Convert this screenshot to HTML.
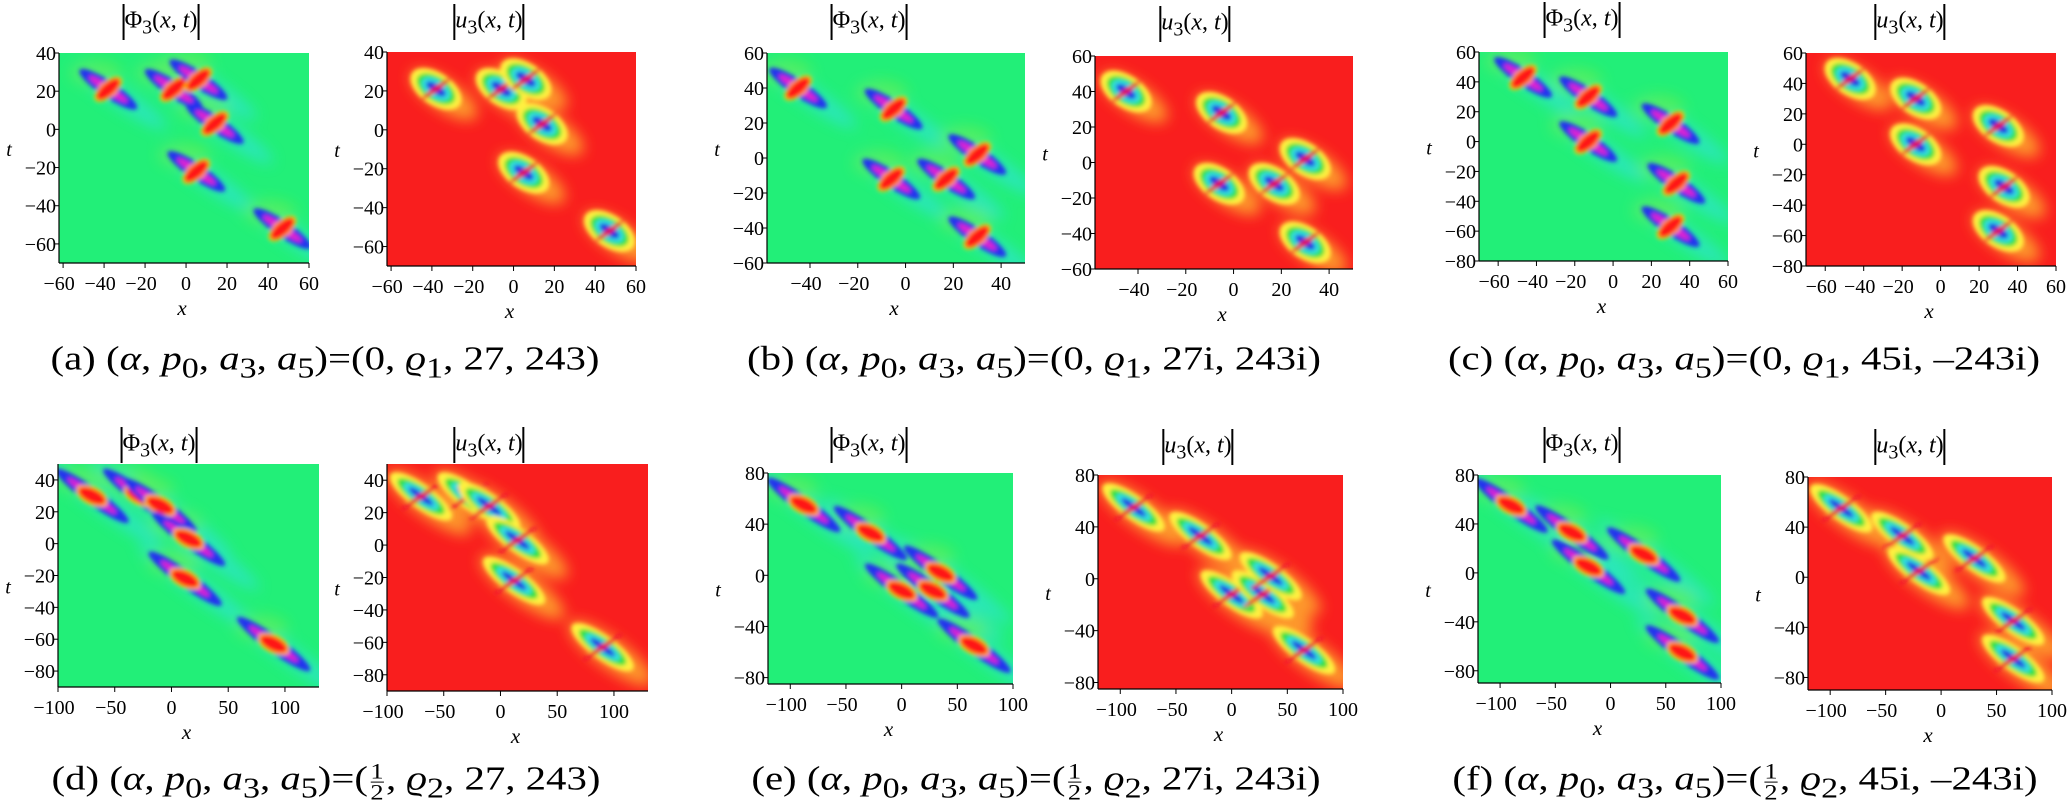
<!DOCTYPE html>
<html><head><meta charset="utf-8">
<style>
html,body{margin:0;padding:0;background:#fff;width:2072px;height:808px;overflow:hidden;font-family:"Liberation Serif",serif;}
#c{position:absolute;left:0;top:0}
.cap{position:absolute;font-size:34px;white-space:nowrap;transform:translate(-50%,-50%) scaleX(1.2);font-family:"Liberation Serif",serif}
.cap i{font-style:italic}
.fr{display:inline-block;vertical-align:middle;text-align:center;font-size:22px;line-height:20px;margin:0 2px}
.fr span{display:block}
.fr .n{border-bottom:1.5px solid #000}
.ttl{position:absolute;font-size:24px;transform:translate(-50%,-50%);white-space:nowrap}
.ttl .b{display:inline-block;border-left:2px solid #000;height:36px;vertical-align:middle}
.ttl i{font-style:italic}
</style></head><body>
<svg id="c" width="2072" height="808" xmlns="http://www.w3.org/2000/svg">
<defs>
<filter id="bl" x="-50%" y="-50%" width="200%" height="200%"><feGaussianBlur stdDeviation="2.2"/></filter>
<filter id="bl2" x="-50%" y="-50%" width="200%" height="200%"><feGaussianBlur stdDeviation="7"/></filter>
</defs>
<g id="g"></g>
</svg>
<div class="ttl" style="left:161px;top:22px"><span class="b"></span>Φ<sub>3</sub>(<i>x</i>, <i>t</i>)<span class="b"></span></div>
<div class="ttl" style="left:489px;top:22px"><span class="b"></span><i>u</i><sub>3</sub>(<i>x</i>, <i>t</i>)<span class="b"></span></div>
<div class="ttl" style="left:869px;top:22px"><span class="b"></span>Φ<sub>3</sub>(<i>x</i>, <i>t</i>)<span class="b"></span></div>
<div class="ttl" style="left:1195px;top:24px"><span class="b"></span><i>u</i><sub>3</sub>(<i>x</i>, <i>t</i>)<span class="b"></span></div>
<div class="ttl" style="left:1582px;top:20px"><span class="b"></span>Φ<sub>3</sub>(<i>x</i>, <i>t</i>)<span class="b"></span></div>
<div class="ttl" style="left:1910px;top:22px"><span class="b"></span><i>u</i><sub>3</sub>(<i>x</i>, <i>t</i>)<span class="b"></span></div>
<div class="ttl" style="left:159px;top:445px"><span class="b"></span>Φ<sub>3</sub>(<i>x</i>, <i>t</i>)<span class="b"></span></div>
<div class="ttl" style="left:489px;top:445px"><span class="b"></span><i>u</i><sub>3</sub>(<i>x</i>, <i>t</i>)<span class="b"></span></div>
<div class="ttl" style="left:869px;top:445px"><span class="b"></span>Φ<sub>3</sub>(<i>x</i>, <i>t</i>)<span class="b"></span></div>
<div class="ttl" style="left:1198px;top:447px"><span class="b"></span><i>u</i><sub>3</sub>(<i>x</i>, <i>t</i>)<span class="b"></span></div>
<div class="ttl" style="left:1582px;top:445px"><span class="b"></span>Φ<sub>3</sub>(<i>x</i>, <i>t</i>)<span class="b"></span></div>
<div class="ttl" style="left:1910px;top:447px"><span class="b"></span><i>u</i><sub>3</sub>(<i>x</i>, <i>t</i>)<span class="b"></span></div>

<div class="cap" style="left:325px;top:363px">(a) (<i>α</i>, <i>p</i><sub>0</sub>, <i>a</i><sub>3</sub>, <i>a</i><sub>5</sub>)=(0, <i>ϱ</i><sub>1</sub>, 27, 243)</div>
<div class="cap" style="left:1034px;top:363px">(b) (<i>α</i>, <i>p</i><sub>0</sub>, <i>a</i><sub>3</sub>, <i>a</i><sub>5</sub>)=(0, <i>ϱ</i><sub>1</sub>, 27i, 243i)</div>
<div class="cap" style="left:1744px;top:363px">(c) (<i>α</i>, <i>p</i><sub>0</sub>, <i>a</i><sub>3</sub>, <i>a</i><sub>5</sub>)=(0, <i>ϱ</i><sub>1</sub>, 45i, –243i)</div>
<div class="cap" style="left:326px;top:783px">(d) (<i>α</i>, <i>p</i><sub>0</sub>, <i>a</i><sub>3</sub>, <i>a</i><sub>5</sub>)=(<span class="fr"><span class="n">1</span><span>2</span></span>, <i>ϱ</i><sub>2</sub>, 27, 243)</div>
<div class="cap" style="left:1036px;top:783px">(e) (<i>α</i>, <i>p</i><sub>0</sub>, <i>a</i><sub>3</sub>, <i>a</i><sub>5</sub>)=(<span class="fr"><span class="n">1</span><span>2</span></span>, <i>ϱ</i><sub>2</sub>, 27i, 243i)</div>
<div class="cap" style="left:1745px;top:783px">(f) (<i>α</i>, <i>p</i><sub>0</sub>, <i>a</i><sub>3</sub>, <i>a</i><sub>5</sub>)=(<span class="fr"><span class="n">1</span><span>2</span></span>, <i>ϱ</i><sub>2</sub>, 45i, –243i)</div>

<script>
var NS="http://www.w3.org/2000/svg",G=document.getElementById('g');
function el(t,a,p){var e=document.createElementNS(NS,t);for(var k in a)e.setAttribute(k,a[k]);(p||G).appendChild(e);return e;}
var sets={
a:{xr:[-62,60],tr:[-70,40],xt:[-60,-40,-20,0,20,40,60],tt:[40,20,0,-20,-40,-60],c:[[-38,21],[-6,21],[6,26],[14,3],[5,-22],[47,-52]]},
b:{xr:[-58,50],tr:[-60,60],xt:[-40,-20,0,20,40],tt:[60,40,20,0,-20,-40,-60],c:[[-45,40],[-5,28],[30,2],[-6,-12],[17,-12],[30,-45]]},
c:{xr:[-70,60],tr:[-80,60],xt:[-60,-40,-20,0,20,40,60],tt:[60,40,20,0,-20,-40,-60,-80],c:[[-47,43],[-13,30],[-13,0],[30,12],[33,-28],[30,-57]]},
d:{xr:[-100,130],tr:[-90,50],xt:[-100,-50,0,50,100],tt:[40,20,0,-20,-40,-60,-80],c:[[-70,30],[-28,30],[-10,24],[15,3],[12,-22],[90,-63]]},
e:{xr:[-120,100],tr:[-85,80],xt:[-100,-50,0,50,100],tt:[80,40,0,-40,-80],c:[[-88,55],[-28,33],[0,-12],[28,-12],[35,2],[65,-55]]},
f:{xr:[-120,100],tr:[-90,80],xt:[-100,-50,0,50,100],tt:[80,40,0,-40,-80],c:[[-90,55],[-35,33],[-20,5],[30,15],[65,-35],[65,-65]]}
};
var panels=[
['a','p',59,53,309,263],['a','u',387,52,636,266],
['b','p',767,53,1025,263],['b','u',1095,56,1353,269],
['c','p',1479,52,1728,261],['c','u',1806,53,2056,266],
['d','p',58,464,319,687],['d','u',387,464,648,691],
['e','p',768,473,1013,684],['e','u',1098,475,1343,689],
['f','p',1478,475,1721,683],['f','u',1808,477,2052,690]];
var pid=0;
function lab(v){return v<0?'\u2212'+(-v):''+v;}
panels.forEach(function(P){
 var s=sets[P[0]],ty=P[1],x0=P[2],y0=P[3],x1=P[4],y1=P[5],row2=y0>400;
 var W=x1-x0,H=y1-y0;pid++;
 var cp=el('clipPath',{id:'cp'+pid},document.querySelector('defs'));
 el('rect',{x:x0,y:y0,width:W,height:H},cp);
 var g=el('g',{'clip-path':'url(#cp'+pid+')'});
 el('rect',{x:x0,y:y0,width:W,height:H,fill:ty=='p'?'#22ef78':'#f91e1e'},g);
 function X(v){return x0+(v-s.xr[0])/(s.xr[1]-s.xr[0])*W;}
 function Y(v){return y0+(s.tr[1]-v)/(s.tr[1]-s.tr[0])*H;}
 var ang=row2?36:34,L=row2?1.5:1.15;
 if(ty=='p'){
  var bg=el('g',{filter:'url(#bl2)',opacity:0.55},g);
  s.c.forEach(function(c){var cx=X(c[0])+12,cy=Y(c[1])+8;el('ellipse',{cx:cx,cy:cy,rx:48*L,ry:10,fill:'#30e0f0',transform:'rotate('+ang+' '+cx+' '+cy+')'},bg);
   el('ellipse',{cx:X(c[0])-12,cy:Y(c[1])-16,rx:26,ry:13,fill:'#a8f020',opacity:0.6},bg);});
  var bb=el('g',{filter:'url(#bl)'},g);
  s.c.forEach(function(c){var cx=X(c[0]),cy=Y(c[1]),tr=function(a){return 'rotate('+a+' '+cx+' '+cy+')';};
   el('ellipse',{cx:cx,cy:cy,rx:30*L,ry:8,fill:'#2233ee',transform:tr(ang)},bb);
   el('ellipse',{cx:cx,cy:cy,rx:20*L,ry:4,fill:'#e020d0',transform:tr(ang)},bb);
   el('ellipse',{cx:cx,cy:cy,rx:17,ry:row2?9:8,fill:'#ffd800',transform:tr(ang-(row2?10:75))},bb);
   el('ellipse',{cx:cx,cy:cy,rx:15,ry:row2?7:6.5,fill:'#ff1515',transform:tr(ang-(row2?10:75))},bb);
  });
 } else {
  var ub=el('g',{filter:'url(#bl2)',opacity:0.7},g);
  s.c.forEach(function(c){var cx=X(c[0])+8,cy=Y(c[1])+6;el('ellipse',{cx:cx,cy:cy,rx:34*L,ry:15,fill:'#ffcc30',transform:'rotate('+ang+' '+cx+' '+cy+')'},ub);});
  var bb=el('g',{filter:'url(#bl)'},g);
  s.c.forEach(function(c){var cx=X(c[0]),cy=Y(c[1]),tr=function(a){return 'rotate('+a+' '+cx+' '+cy+')';};
   [['#fff040',25,16],['#30e040',19,12],['#30e0e0',14,9],['#2030e0',10,5]].forEach(function(q){
    el('ellipse',{cx:cx,cy:cy,rx:q[1]*L,ry:q[2]*(row2?0.75:1),fill:q[0],transform:tr(ang)},bb);});
   el('ellipse',{cx:cx,cy:cy,rx:16*L,ry:2.5,fill:'#f01030',transform:tr(ang-70)},bb);
  });
 }
 var fs=20;
 el('line',{x1:x0,y1:y0,x2:x0,y2:y1,stroke:'#000','stroke-width':1.2});
 el('line',{x1:x0,y1:y1,x2:x1,y2:y1,stroke:'#000','stroke-width':1.2});
 s.xt.forEach(function(v){var x=X(v);el('line',{x1:x,y1:y1,x2:x,y2:y1+5,stroke:'#000'});
  var t=el('text',{x:x-(v<0?4:0),y:y1+27,'font-size':fs,'text-anchor':'middle','font-family':'Liberation Serif'});t.textContent=lab(v);});
 s.tt.forEach(function(v){var y=Y(v);el('line',{x1:x0-5,y1:y,x2:x0,y2:y,stroke:'#000'});
  var t=el('text',{x:x0-3,y:y+7,'font-size':fs,'text-anchor':'end','font-family':'Liberation Serif'});t.textContent=lab(v);});
 var t=el('text',{x:x0-50,y:(y0+y1)/2+(row2?18:-2),'font-size':20,'font-style':'italic','font-family':'Liberation Serif','text-anchor':'middle'});t.textContent='t';
 var t2=el('text',{x:(x0+x1)/2-2,y:y1+(row2?52:52),'font-size':21,'font-style':'italic','font-family':'Liberation Serif','text-anchor':'middle'});t2.textContent='x';
});
</script>
</body></html>
